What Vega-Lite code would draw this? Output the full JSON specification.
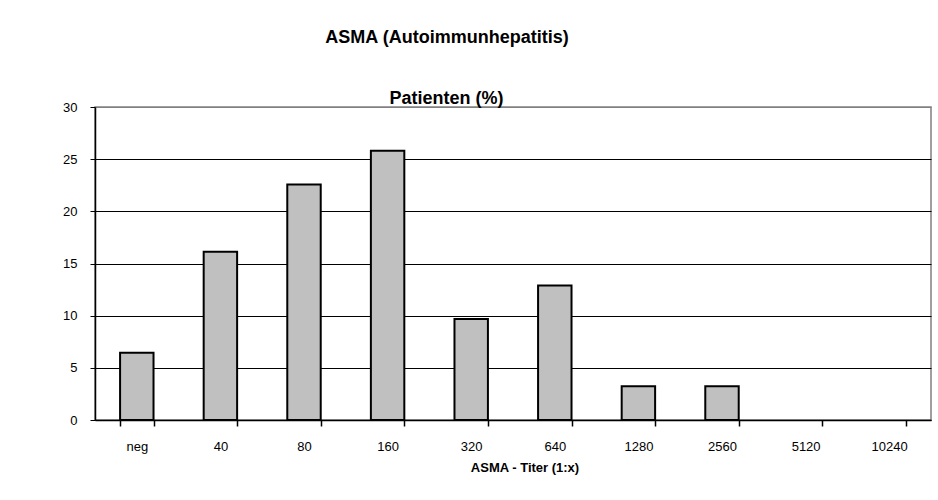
{
  "$schema": "https://vega.github.io/schema/vega-lite/v6.json",
  "width": 836,
  "height": 313,
  "autosize": {"type": "none"},
  "padding": {"left": 95, "top": 107, "right": 7, "bottom": 80},
  "background": "white",
  "config": {
    "font": "Liberation Sans",
    "view": {"stroke": "#808080", "strokeWidth": 1.5},
    "axisX": {"ticks": true, "tickSize": 5, "tickColor": "#000"}
  },
  "title": {
    "text": "ASMA (Autoimmunhepatitis)",
    "fontSize": 18,
    "fontWeight": "bold",
    "color": "#000",
    "anchor": "middle",
    "frame": "group",
    "dx": -66,
    "dy": -38
  },
  "data": {
    "values": [
      {"titer": "neg", "pct": 6.45},
      {"titer": "40", "pct": 16.13},
      {"titer": "80", "pct": 22.58},
      {"titer": "160", "pct": 25.81},
      {"titer": "320", "pct": 9.68},
      {"titer": "640", "pct": 12.9},
      {"titer": "1280", "pct": 3.23},
      {"titer": "2560", "pct": 3.23},
      {"titer": "5120", "pct": 0},
      {"titer": "10240", "pct": 0}
    ]
  },
  "mark": {"type": "bar", "fill": "#c0c0c0", "stroke": "#000", "strokeWidth": 2},
  "encoding": {
    "x": {
      "field": "titer",
      "type": "nominal",
      "sort": null,
      "scale": {"paddingInner": 0.6, "paddingOuter": 0.3},
      "axis": {
        "title": "ASMA - Titer (1:x)",
        "titleFontSize": 13,
        "titleFontWeight": "bold",
        "titleColor": "#000",
        "titleX": 429.5,
        "titleY": 51,
        "titleAlign": "center",
        "titleBaseline": "alphabetic",
        "ticks": true,
        "tickBand": "extent",
        "tickExtra": true,
        "tickSize": 6,
        "tickWidth": 1.5,
        "tickColor": "#000",
        "labelAngle": 0,
        "labelFontSize": 13,
        "labelColor": "#000",
        "labelPadding": 14,
        "domainColor": "#000",
        "domainWidth": 1.5
      }
    },
    "y": {
      "field": "pct",
      "type": "quantitative",
      "scale": {"domain": [0, 30], "nice": false},
      "axis": {
        "title": "Patienten (%)",
        "titleAngle": 0,
        "titleX": 351,
        "titleY": -4,
        "titleAlign": "center",
        "titleBaseline": "alphabetic",
        "titleFontSize": 18,
        "titleFontWeight": "bold",
        "titleColor": "#000",
        "values": [0, 5, 10, 15, 20, 25, 30],
        "domainColor": "#000",
        "domainWidth": 1.5,
        "tickColor": "#000",
        "tickSize": 5,
        "labelFontSize": 13,
        "labelColor": "#000",
        "labelPadding": 13,
        "grid": true,
        "gridColor": {"condition": {"test": "datum.value === 30", "value": "#808080"}, "value": "#000"},
        "gridOpacity": 1
      }
    },
    "strokeOpacity": {
      "condition": {"test": "datum.pct === 0", "value": 0},
      "value": 1
    }
  }
}
